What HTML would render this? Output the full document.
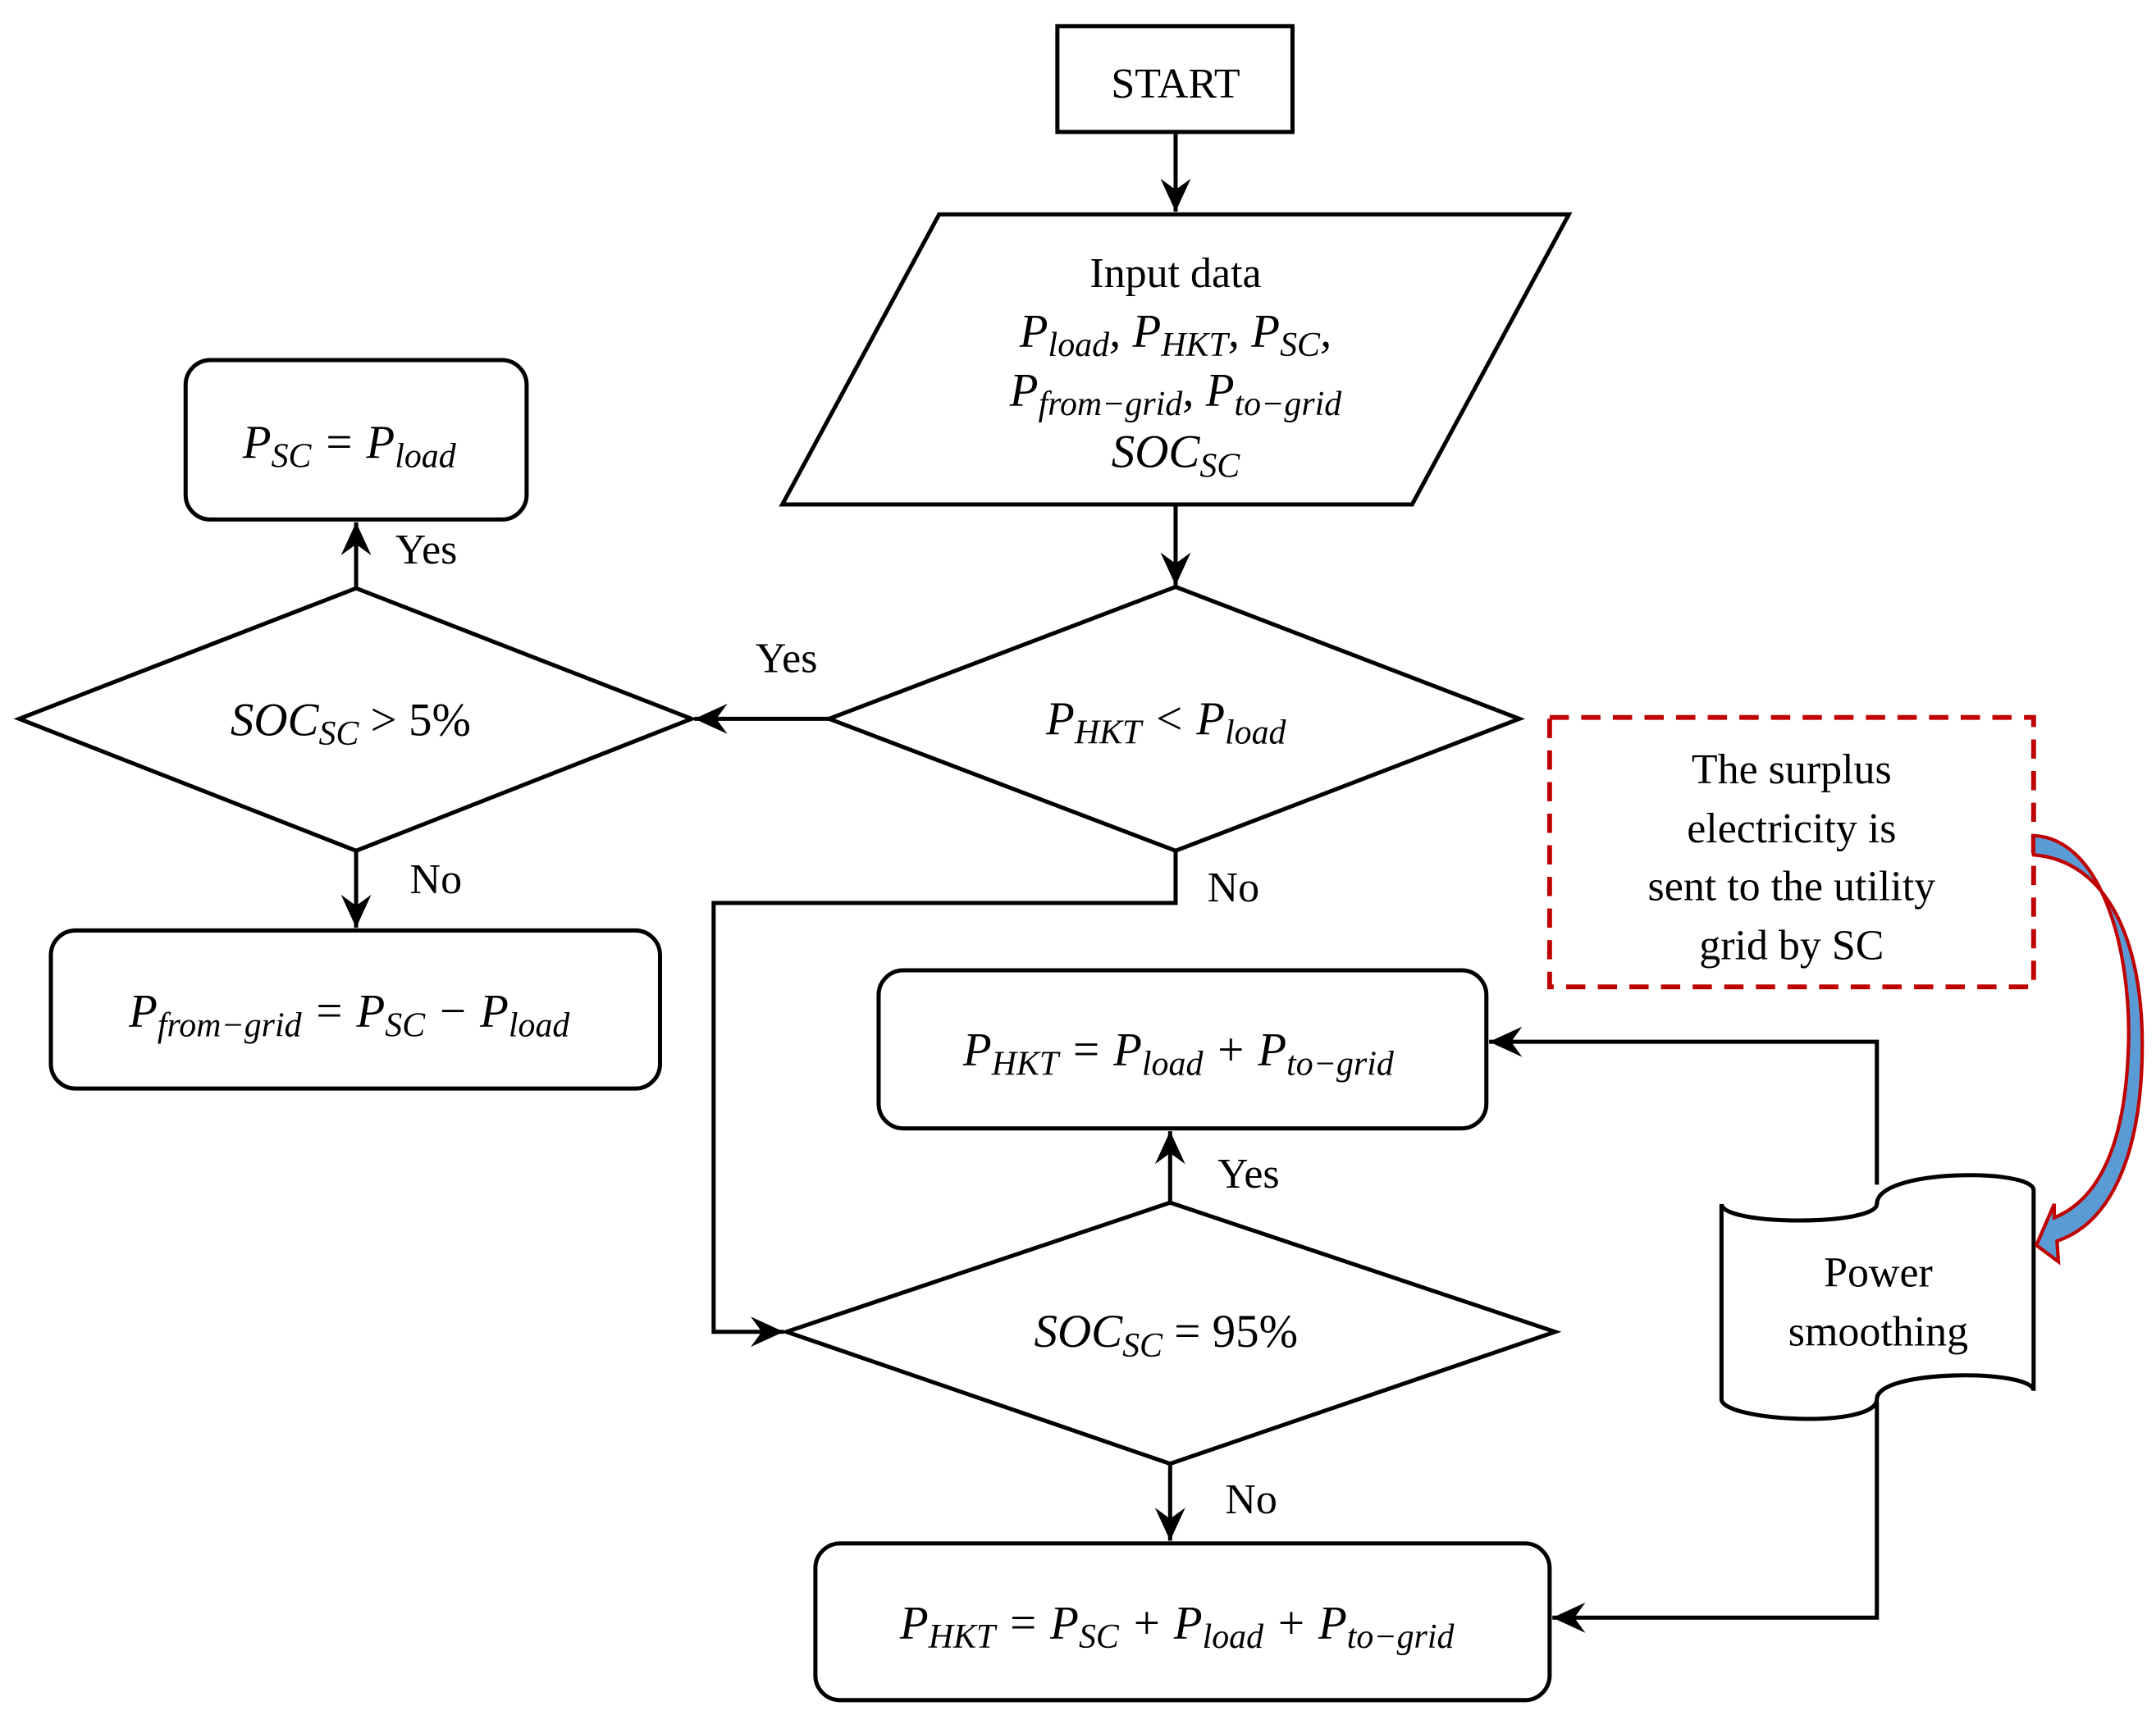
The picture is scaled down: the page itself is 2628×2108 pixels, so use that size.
<!DOCTYPE html>
<html><head><meta charset="utf-8"><style>
html,body{margin:0;padding:0;background:#fff}
svg{display:block}
text{font-family:"Liberation Serif",serif;fill:#000}
.t{font-size:31px}
.m{font-size:34px;font-style:italic}
.s{font-size:25px}
</style></head><body>
<svg width="2628" height="2108" viewBox="0 0 1568 1258" preserveAspectRatio="none" xmlns="http://www.w3.org/2000/svg">
<defs>
<marker id="a" markerUnits="userSpaceOnUse" markerWidth="30" markerHeight="30" refX="0" refY="0" viewBox="-26 -13 30 26" orient="auto" overflow="visible">
<path d="M0,0 L-24,-11 L-16,0 L-24,11 Z" fill="#000"/>
</marker>
</defs>
<g fill="none" stroke="#000" stroke-width="3">
<rect x="769" y="19" width="171" height="77"/>
<polygon points="683,156 1141,156 1027,367 569,367"/>
<polygon points="855,427 1105,523 855,619 603,523"/>
<polygon points="259,428 503,523 259,619 14,523"/>
<polygon points="851,875 1131,969 851,1065 572,969"/>
<rect x="135" y="262" width="248" height="116" rx="18"/>
<rect x="37" y="677" width="443" height="115" rx="18"/>
<rect x="639" y="706" width="442" height="115" rx="18"/>
<rect x="593" y="1123" width="534" height="114" rx="18"/>
<path d="M1252,876 C1252,892 1365,892 1365,876 C1365,850 1479,850 1479,866 L1479,1012 C1479,996 1365,996 1365,1018 C1365,1040 1252,1034 1252,1018 Z"/>
<line x1="855" y1="96" x2="855" y2="154" marker-end="url(#a)"/>
<line x1="855" y1="367" x2="855" y2="426" marker-end="url(#a)"/>
<line x1="603" y1="523" x2="505" y2="523" marker-end="url(#a)"/>
<line x1="259" y1="428" x2="259" y2="380" marker-end="url(#a)"/>
<line x1="259" y1="619" x2="259" y2="675" marker-end="url(#a)"/>
<polyline points="855,619 855,657 519,657 519,969 570,969" marker-end="url(#a)"/>
<line x1="851" y1="875" x2="851" y2="823" marker-end="url(#a)"/>
<line x1="851" y1="1065" x2="851" y2="1121" marker-end="url(#a)"/>
<polyline points="1365,862 1365,758 1083,758" marker-end="url(#a)"/>
<polyline points="1365,1020 1365,1177 1129,1177" marker-end="url(#a)"/>
</g>
<rect x="1127" y="522" width="352" height="196" fill="none" stroke="#c00000" stroke-width="3.5" stroke-dasharray="14,9"/>
<path d="M1479,608 C1528,610 1550,690 1548,760 C1546,830 1528,872 1494,886 L1494,876 L1481,906 L1497,918 L1496,903 C1540,888 1558,830 1558,760 C1558,680 1530,626 1479,622 Z" fill="#5b9bd5" stroke="#c00000" stroke-width="2.5"/>
<text class="t" x="855" y="71" text-anchor="middle">START</text>
<text class="t" x="855" y="209" text-anchor="middle">Input data</text>
<text class="m" x="855" y="252" text-anchor="middle">P<tspan class="s" dy="7">load</tspan><tspan dy="-7">, P</tspan><tspan class="s" dy="7">HKT</tspan><tspan dy="-7">, P</tspan><tspan class="s" dy="7">SC</tspan><tspan dy="-7">,</tspan></text>
<text class="m" x="855" y="295" text-anchor="middle">P<tspan class="s" dy="7">from−grid</tspan><tspan dy="-7">, P</tspan><tspan class="s" dy="7">to−grid</tspan></text>
<text class="m" x="855" y="340" text-anchor="middle">SOC<tspan class="s" dy="7">SC</tspan></text>
<text class="m" x="848" y="534" text-anchor="middle">P<tspan class="s" dy="7">HKT</tspan><tspan dy="-7"> &lt; P</tspan><tspan class="s" dy="7">load</tspan></text>
<text class="m" x="255" y="535" text-anchor="middle">SOC<tspan class="s" dy="7">SC</tspan><tspan dy="-7" font-style="normal"> &gt; 5%</tspan></text>
<text class="m" x="254" y="333" text-anchor="middle">P<tspan class="s" dy="7">SC</tspan><tspan dy="-7"> = P</tspan><tspan class="s" dy="7">load</tspan></text>
<text class="m" x="254" y="747" text-anchor="middle">P<tspan class="s" dy="7">from−grid</tspan><tspan dy="-7"> = P</tspan><tspan class="s" dy="7">SC</tspan><tspan dy="-7"> − P</tspan><tspan class="s" dy="7">load</tspan></text>
<text class="m" x="857" y="775" text-anchor="middle">P<tspan class="s" dy="7">HKT</tspan><tspan dy="-7"> = P</tspan><tspan class="s" dy="7">load</tspan><tspan dy="-7"> + P</tspan><tspan class="s" dy="7">to−grid</tspan></text>
<text class="m" x="848" y="980" text-anchor="middle">SOC<tspan class="s" dy="7">SC</tspan><tspan dy="-7" font-style="normal"> = 95%</tspan></text>
<text class="m" x="856" y="1192" text-anchor="middle">P<tspan class="s" dy="7">HKT</tspan><tspan dy="-7"> = P</tspan><tspan class="s" dy="7">SC</tspan><tspan dy="-7"> + P</tspan><tspan class="s" dy="7">load</tspan><tspan dy="-7"> + P</tspan><tspan class="s" dy="7">to−grid</tspan></text>
<text class="t" x="310" y="410" text-anchor="middle">Yes</text>
<text class="t" x="572" y="489" text-anchor="middle">Yes</text>
<text class="t" x="317" y="650" text-anchor="middle">No</text>
<text class="t" x="897" y="656" text-anchor="middle">No</text>
<text class="t" x="908" y="864" text-anchor="middle">Yes</text>
<text class="t" x="910" y="1101" text-anchor="middle">No</text>
<text class="t" x="1303" y="570" text-anchor="middle">The surplus</text>
<text class="t" x="1303" y="613" text-anchor="middle">electricity is</text>
<text class="t" x="1303" y="655" text-anchor="middle">sent to the utility</text>
<text class="t" x="1303" y="698" text-anchor="middle">grid by SC</text>
<text class="t" x="1366" y="936" text-anchor="middle">Power</text>
<text class="t" x="1366" y="979" text-anchor="middle">smoothing</text>
</svg>
</body></html>
